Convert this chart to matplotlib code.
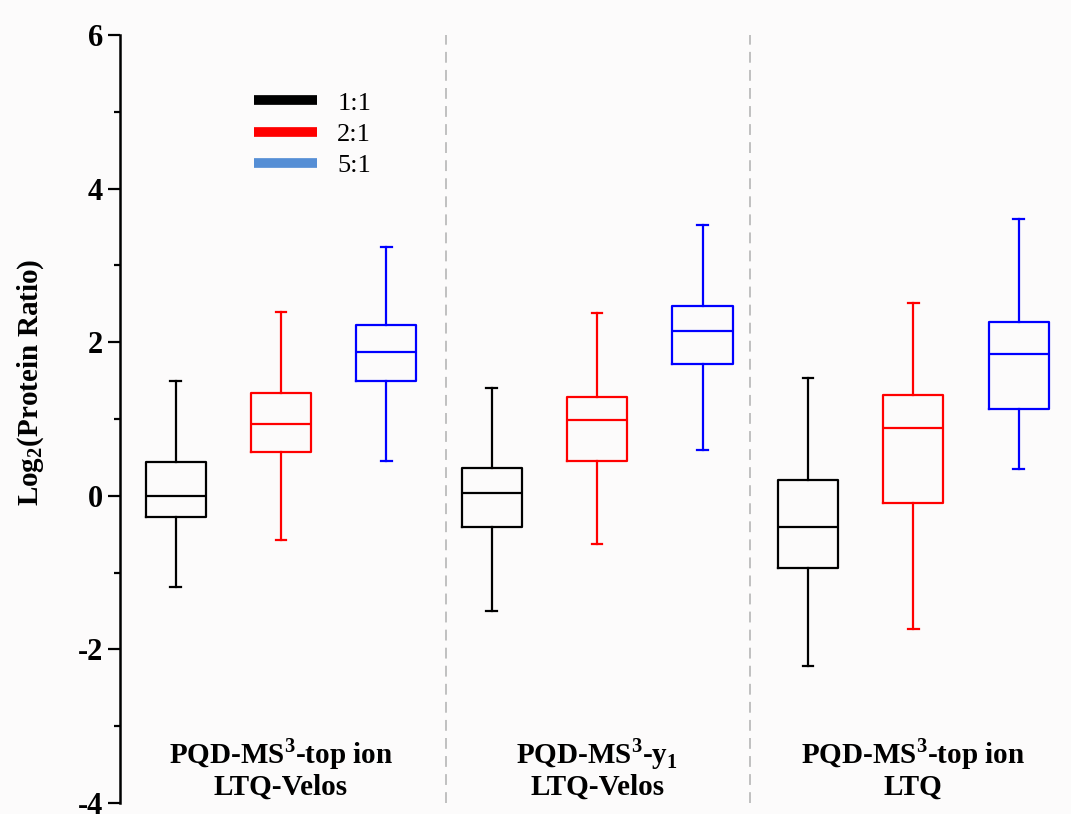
import matplotlib
matplotlib.use("Agg")
import matplotlib.pyplot as plt
from matplotlib.lines import Line2D

plt.rcParams['font.family'] = ['Liberation Serif', 'DejaVu Serif']
plt.rcParams['mathtext.fontset'] = 'custom'
plt.rcParams['mathtext.rm'] = 'Liberation Serif'
plt.rcParams['mathtext.bf'] = 'Liberation Serif:bold'

# methods (x groups) and mixing ratios (boxes inside each group)
methods = [r'PQD-MS$^{\mathbf{3}}$-top ion' + '\nLTQ-Velos',
           r'PQD-MS$^{\mathbf{3}}$-y$_{\mathbf{1}}$' + '\nLTQ-Velos',
           r'PQD-MS$^{\mathbf{3}}$-top ion' + '\nLTQ']
ratios = ['1:1', '2:1', '5:1']

# box statistics per ratio, one value per method
whislo_11 = [-1.19, -1.50, -2.21]
q1_11 = [-0.28, -0.40, -0.94]
med_11 = [0.00, 0.04, -0.40]
q3_11 = [0.44, 0.36, 0.20]
whishi_11 = [1.49, 1.40, 1.53]

whislo_21 = [-0.57, -0.63, -1.73]
q1_21 = [0.57, 0.45, -0.09]
med_21 = [0.935, 0.99, 0.88]
q3_21 = [1.34, 1.285, 1.315]
whishi_21 = [2.39, 2.38, 2.51]

whislo_51 = [0.45, 0.59, 0.35]
q1_51 = [1.49, 1.72, 1.13]
med_51 = [1.87, 2.15, 1.845]
q3_51 = [2.22, 2.47, 2.26]
whishi_51 = [3.24, 3.53, 3.60]

box_colors = ['black', 'red', 'blue']
legend_colors = ['black', 'red', '#558ed5']

ratio_stats = [
    (whislo_11, q1_11, med_11, q3_11, whishi_11),
    (whislo_21, q1_21, med_21, q3_21, whishi_21),
    (whislo_51, q1_51, med_51, q3_51, whishi_51),
]

fig = plt.figure(figsize=(10.71, 8.14), dpi=100)
fig.patch.set_facecolor('#fcfbfb')
ax = fig.add_axes([120 / 1071, 11 / 814, 951 / 1071, 768 / 814])
ax.set_facecolor('#fcfbfb')

for r, (lo, q1, med, q3, hi) in enumerate(ratio_stats):
    stats = []
    positions = []
    for g in range(len(methods)):
        stats.append(dict(whislo=lo[g], q1=q1[g], med=med[g], q3=q3[g],
                          whishi=hi[g], fliers=[]))
        positions.append(1 + 3 * g + r)
    c = box_colors[r]
    ax.bxp(stats, positions=positions, widths=0.57, capwidths=0.1,
           showfliers=False,
           boxprops=dict(color=c, linewidth=1.6),
           medianprops=dict(color=c, linewidth=1.6),
           whiskerprops=dict(color=c, linewidth=1.6),
           capprops=dict(color=c, linewidth=1.6))

# separators between methods
for xs in [3.566, 6.45]:
    ax.axvline(xs, color='#bbbbbb', linewidth=1.3, linestyle=(0, (6, 4)), zorder=0)

# method labels under the boxes
for g, name in enumerate(methods):
    ax.text(2 + 3 * g, -3.55, name, ha='center', va='center',
            fontsize=21, fontweight='bold', linespacing=1.05)

ax.set_xlim(0.473, 9.496)
ax.set_ylim(-4, 6)
ax.set_yticks([-4, -2, 0, 2, 4, 6])
ax.set_yticklabels(['-4', '-2', '0', '2', '4', '6'])
ax.set_yticks([-3, -1, 1, 3, 5], minor=True)
ax.tick_params(axis='y', which='major', length=9, width=1.6, labelsize=22, pad=3)
ax.tick_params(axis='y', which='minor', length=4.5, width=1.6)
for lab in ax.get_yticklabels():
    lab.set_fontweight('bold')
ax.set_xticks([])
for s in ['top', 'right', 'bottom']:
    ax.spines[s].set_visible(False)
ax.spines['left'].set_linewidth(1.8)

ax.set_ylabel(r'Log$_\mathbf{2}$(Protein Ratio)', fontsize=21, fontweight='bold')
ax.yaxis.set_label_coords(-0.078, 0.548)

handles = [Line2D([0], [0], color=c, linewidth=7, solid_capstyle='butt')
           for c in legend_colors]
ax.legend(handles, ratios, loc='upper left', bbox_to_anchor=(0.141, 0.927),
          frameon=False, fontsize=19, handlelength=2.4, handletextpad=0.75,
          labelspacing=0.3, borderpad=0, borderaxespad=0)

fig.savefig('out.png', dpi=100, facecolor=fig.get_facecolor())
